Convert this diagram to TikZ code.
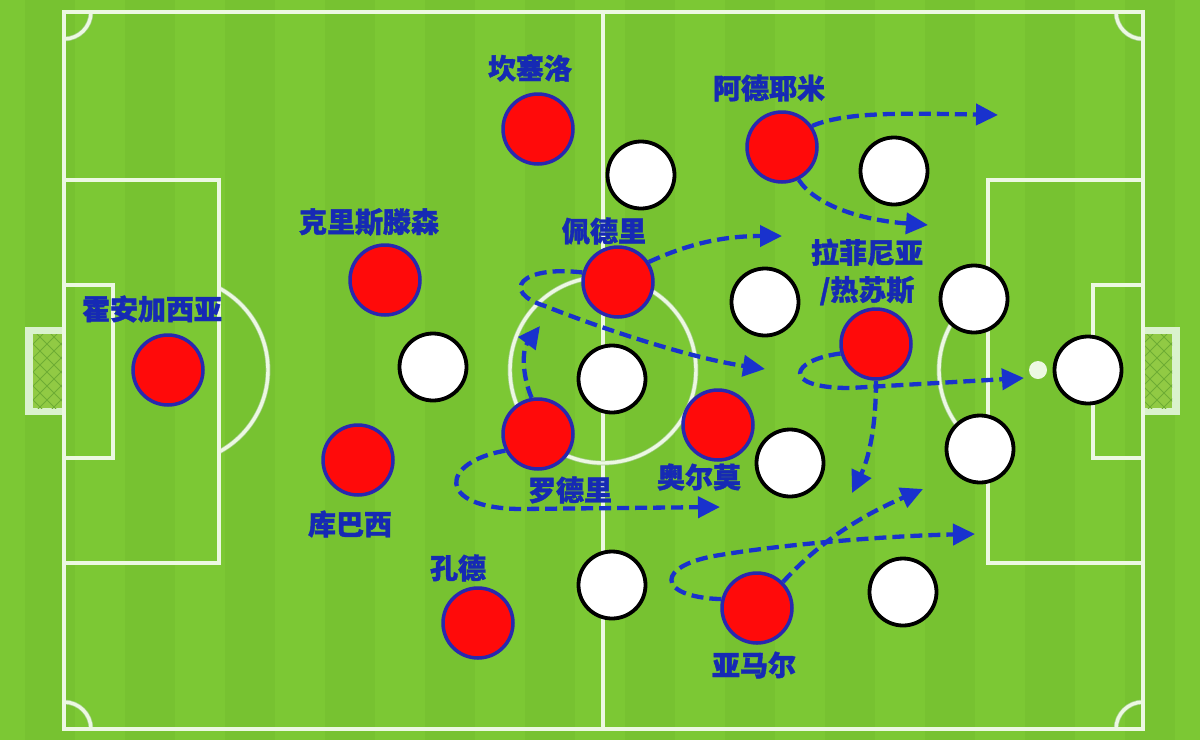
\documentclass[tikz,border=0pt]{standalone}
\usepackage{fontspec}
\newfontfamily\cjk{Noto Sans CJK SC}[BoldFeatures={FakeBold=1.3}]
\usetikzlibrary{arrows.meta}
\definecolor{grass}{RGB}{124,200,52}
\definecolor{grassdark}{RGB}{119,194,49}
\definecolor{linepale}{RGB}{236,248,226}
\definecolor{lineedge}{RGB}{165,205,140}
\definecolor{netfill}{RGB}{145,202,68}
\definecolor{netline}{RGB}{110,172,52}
\definecolor{goalframe}{RGB}{218,242,205}
\definecolor{redp}{RGB}{255,10,10}
\definecolor{redb}{RGB}{40,40,175}
\definecolor{arrowblue}{RGB}{25,50,205}
\definecolor{labelblue}{RGB}{22,42,180}
\tikzset{
  fieldline/.style={draw=lineedge, line width=0.7pt, double=linepale, double distance=3.4pt},
  redplayer/.style={circle, fill=redp, draw=redb, line width=3.5pt, minimum size=70pt, inner sep=0pt},
  whiteplayer/.style={circle, fill=white, draw=black, line width=3.8pt, minimum size=67pt, inner sep=0pt},
  runarrow/.style={draw=arrowblue, line width=4.3pt, dash pattern=on 12pt off 6pt, -{Triangle[length=22pt,width=21pt]}},
  plabel/.style={text=labelblue, font=\cjk\bfseries\fontsize{28}{37}\selectfont, inner sep=0pt, align=center},
  netstroke/.style={draw=netline, line width=0.8pt}
}
\begin{document}
\begin{tikzpicture}[x=1pt,y=-1pt]
\useasboundingbox (0,0) rectangle (1200,740);
% grass
\fill[grass] (0,0) rectangle (1200,740);
\foreach \i in {0,2,...,22} { \fill[grassdark] (\i*50+25,0) rectangle (\i*50+75,740); }
% goals
\fill[goalframe] (25,327) rectangle (64,415);
\begin{scope}
  \clip (33,334) rectangle (64,408);
  \fill[netfill] (33,334) rectangle (64,408);
  \foreach \k in {-60,-46,...,130} { \draw[netstroke] (33,334+\k) -- ++(50,50); \draw[netstroke] (33,334+\k) -- ++(50,-50); }
\end{scope}
\fill[goalframe] (1143,327) rectangle (1180,415);
\begin{scope}
  \clip (1143,334) rectangle (1172,408);
  \fill[netfill] (1143,334) rectangle (1172,408);
  \foreach \k in {-60,-46,...,130} { \draw[netstroke] (1143,334+\k) -- ++(50,50); \draw[netstroke] (1143,334+\k) -- ++(50,-50); }
\end{scope}
% field lines
\draw[fieldline] (603,12) -- (603,729);
\draw[fieldline] (603,370) circle[radius=93];
\draw[fieldline] (64,180) -- (219,180) -- (219,563) -- (64,563);
\draw[fieldline] (64,285) -- (113,285) -- (113,458) -- (64,458);
\draw[fieldline] (1143,180) -- (988,180) -- (988,563) -- (1143,563);
\draw[fieldline] (1143,285) -- (1093,285) -- (1093,458) -- (1143,458);
\begin{scope}
  \clip (221,0) rectangle (400,740);
  \draw[fieldline] (175,370) circle[radius=93];
\end{scope}
\begin{scope}
  \clip (800,0) rectangle (986,740);
  \draw[fieldline] (1032,370) circle[radius=93];
\end{scope}
\begin{scope}
  \clip (64,12) rectangle (1143,729);
  \foreach \p in {(64,12),(1143,12),(64,729),(1143,729)} { \draw[fieldline] \p circle[radius=27]; }
\end{scope}
\draw[fieldline] (64,12) rectangle (1143,729);
\fill[linepale] (1038,370) circle[radius=9];
% red players
\node[redplayer] (garcia) at (168,370) {};
\node[redplayer] (chris) at (385,280) {};
\node[redplayer] (kubarsi) at (358,460) {};
\node[redplayer] (conde) at (478,623) {};
\node[redplayer] (cancelo) at (538,129) {};
\node[redplayer] (pedri) at (618,282) {};
\node[redplayer] (rodri) at (538,434) {};
\node[redplayer] (olmo) at (718,425) {};
\node[redplayer] (ade) at (782,147) {};
\node[redplayer] (raf) at (876,344) {};
\node[redplayer] (yamal) at (757,608) {};
% white players
\node[whiteplayer] (w1) at (433,367) {};
\node[whiteplayer] (w2) at (641,175) {};
\node[whiteplayer] (w3) at (765,302) {};
\node[whiteplayer] (w4) at (612,379) {};
\node[whiteplayer] (w5) at (894,171) {};
\node[whiteplayer] (w6) at (974,299) {};
\node[whiteplayer] (w7) at (980,449) {};
\node[whiteplayer] (w8) at (1088,370) {};
\node[whiteplayer] (w9) at (790,463) {};
\node[whiteplayer] (w10) at (612,585) {};
\node[whiteplayer] (w11) at (903,592) {};
% arrow end points
\coordinate (t1) at (998,115);
\coordinate (t2) at (928,225);
\coordinate (t3) at (782,236);
\coordinate (t4) at (765,369);
\coordinate (t5) at (540,326);
\coordinate (t6) at (720,507);
\coordinate (t7) at (1024,378);
\coordinate (t8) at (852,493);
\coordinate (t9) at (975,534);
\coordinate (t10) at (923,489);
% runs
\draw[runarrow] (ade.35) .. controls (845,112) and (900,113) .. (t1);
\draw[runarrow] (ade.-63) .. controls (815,205) and (860,220) .. (t2);
\draw[runarrow] (pedri.33) .. controls (690,243) and (725,236) .. (t3);
\draw[runarrow] (pedri.165) .. controls (520,265) and (500,292) .. (545,306) .. controls (600,328) and (690,358) .. (t4);
\draw[runarrow] (rodri.100) .. controls (522,375) and (522,350) .. (t5);
\draw[runarrow] (rodri.207) .. controls (440,462) and (435,508) .. (520,509) -- (t6);
\draw[runarrow] (raf.195) .. controls (790,360) and (780,388) .. (850,388) -- (t7);
\draw[runarrow] (raf.-90) .. controls (876,430) and (868,460) .. (t8);
\draw[runarrow] (yamal.166) .. controls (655,597) and (655,565) .. (720,555) .. controls (780,545) and (880,536) .. (t9);
\draw[runarrow] (yamal.45) .. controls (805,558) and (840,525) .. (t10);
% labels
\node[plabel] (lgarcia) at (152,309) {霍安加西亚};
\node[plabel] (lchris) at (369,222) {克里斯滕森};
\node[plabel] (lkubarsi) at (350,524) {库巴西};
\node[plabel] (lconde) at (458,568) {孔德};
\node[plabel] (lcancelo) at (530,68) {坎塞洛};
\node[plabel] (lpedri) at (604,231) {佩德里};
\node[plabel] (lrodri) at (570,490) {罗德里};
\node[plabel] (lolmo) at (699,477) {奥尔莫};
\node[plabel] (lade) at (769,88) {阿德耶米};
\node[plabel] (lraf) at (867,272) {拉菲尼亚\\/热苏斯};
\node[plabel] (lyamal) at (754,665) {亚马尔};
\end{tikzpicture}
\end{document}
